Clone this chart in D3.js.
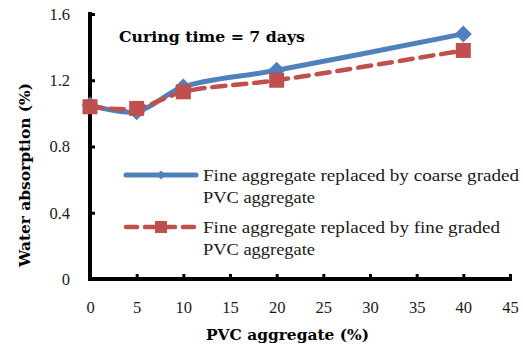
<!DOCTYPE html>
<html>
<head>
<meta charset="utf-8">
<script src="https://cdn.jsdelivr.net/npm/d3@7"></script>
<style>
  body { margin: 0; background: #fff; }
  svg { display: block; }
  svg text.reg { font-family: "Liberation Serif", "DejaVu Serif Condensed", serif !important; }
  svg text.bold { font-family: "DejaVu Serif", serif !important; font-weight: bold !important; }
</style>
</head>
<body>
<svg id="chart" width="523" height="348"></svg>
<script>
// PVC replacement level (%)
const pvcContent = [0, 5, 10, 20, 40];
// Water absorption (%) at 7 days curing
const coarseGraded = [1.05, 1.01, 1.16, 1.26, 1.48];
const fineGraded = [1.04, 1.03, 1.13, 1.20, 1.38];

const xTicks = [0, 5, 10, 15, 20, 25, 30, 35, 40, 45];
const yTicks = [0, 0.4, 0.8, 1.2, 1.6];
const yTickLabels = ["0", "0.4", "0.8", "1.2", "1.6"];

const seriesNames = [
  ["Fine aggregate replaced by coarse graded", "PVC aggregate"],
  ["Fine aggregate replaced by fine graded", "PVC aggregate"]
];

const svg = d3.select("#chart");
const x = d3.scaleLinear().domain([0, 45]).range([90, 510]);
const y = d3.scaleLinear().domain([0, 1.6]).range([279, 14]);

const blue = "#4F81BD", red = "#C0504D";
const textColor = "#1a1a1a";

// Axes
const xAxis = d3.axisBottom(x).tickValues(xTicks).tickSizeInner(-5).tickSizeOuter(0)
  .tickPadding(22).tickFormat(d3.format("d"));
const gx = svg.append("g").attr("transform", `translate(0,${y(0)})`).call(xAxis);
gx.select(".domain").attr("stroke", "#000").attr("stroke-width", 4)
  .attr("d", `M${x(0) - 2},0H${x(45) + 2}`);
gx.selectAll(".tick line").attr("stroke", "#000").attr("stroke-width", 3);
gx.selectAll(".tick text").attr("class", "reg").style("font-size", "16.5px").attr("fill", textColor);

const yAxis = d3.axisLeft(y).tickValues(yTicks).tickSizeInner(-5).tickSizeOuter(0)
  .tickPadding(20).tickFormat((d, i) => yTickLabels[i]);
const gy = svg.append("g").attr("transform", `translate(${x(0)},0)`).call(yAxis);
gy.select(".domain").attr("stroke", "#000").attr("stroke-width", 4)
  .attr("d", `M0,${y(1.6) - 2}V${y(0) + 2}`);
gy.selectAll(".tick line").attr("stroke", "#000").attr("stroke-width", 3);
gy.selectAll(".tick text").attr("class", "reg").style("font-size", "16.5px").attr("fill", textColor);

// Axis titles
svg.append("text").attr("class", "bold").attr("x", 206).attr("y", 340)
  .style("font-size", "15px")
  .attr("textLength", 163).attr("lengthAdjust", "spacingAndGlyphs").text("PVC aggregate (%)");
svg.append("text").attr("class", "bold").attr("transform", "translate(30,267) rotate(-90)")
  .style("font-size", "15px")
  .attr("textLength", 184).attr("lengthAdjust", "spacingAndGlyphs").text("Water absorption (%)");

// Annotation
svg.append("text").attr("class", "bold").attr("x", 119).attr("y", 42)
  .style("font-size", "15px").attr("textLength", 186).attr("lengthAdjust", "spacingAndGlyphs")
  .text("Curing time = 7 days");

// Lines
const line = d3.line().x((d, i) => x(pvcContent[i])).y(d => y(d)).curve(d3.curveCatmullRom.alpha(0.5));

svg.append("path").datum(coarseGraded).attr("d", line).attr("fill", "none")
  .attr("stroke", blue).attr("stroke-width", 5).attr("stroke-linecap", "round");
svg.append("path").datum(fineGraded).attr("d", line).attr("fill", "none")
  .attr("stroke", red).attr("stroke-width", 4.5).attr("stroke-dasharray", "13,8")
  .attr("stroke-linecap", "round");

// Markers
const diamond = (cx, cy, r) => `M${cx},${cy - r}L${cx + r},${cy}L${cx},${cy + r}L${cx - r},${cy}Z`;
svg.append("g").selectAll("path").data(coarseGraded).join("path")
  .attr("d", (d, i) => diamond(x(pvcContent[i]), y(d), 8.5)).attr("fill", blue);
svg.append("g").selectAll("rect").data(fineGraded).join("rect")
  .attr("x", (d, i) => x(pvcContent[i]) - 7.5).attr("y", d => y(d) - 7.5)
  .attr("width", 15).attr("height", 15).attr("fill", red);

// Legend
const legendRows = [175, 227];
const legendWidths = [[316, 112], [297, 112]];
const lg = svg.append("g");
lg.append("line").attr("x1", 126).attr("x2", 196).attr("y1", legendRows[0]).attr("y2", legendRows[0])
  .attr("stroke", blue).attr("stroke-width", 5).attr("stroke-linecap", "round");
lg.append("path").attr("d", diamond(161, legendRows[0], 4.5)).attr("fill", blue);
lg.append("line").attr("x1", 126).attr("x2", 196).attr("y1", legendRows[1]).attr("y2", legendRows[1])
  .attr("stroke", red).attr("stroke-width", 4.5).attr("stroke-dasharray", "11,8")
  .attr("stroke-linecap", "round");
lg.append("rect").attr("x", 155).attr("y", legendRows[1] - 6).attr("width", 12).attr("height", 12).attr("fill", red);

seriesNames.forEach((lines, k) => {
  lines.forEach((t, j) => {
    lg.append("text").attr("class", "reg").attr("x", 203).attr("y", legendRows[k] + 6 + j * 22)
      .style("font-size", "16px").attr("fill", textColor)
      .attr("textLength", legendWidths[k][j]).attr("lengthAdjust", "spacingAndGlyphs").text(t);
  });
});
</script>
</body>
</html>
